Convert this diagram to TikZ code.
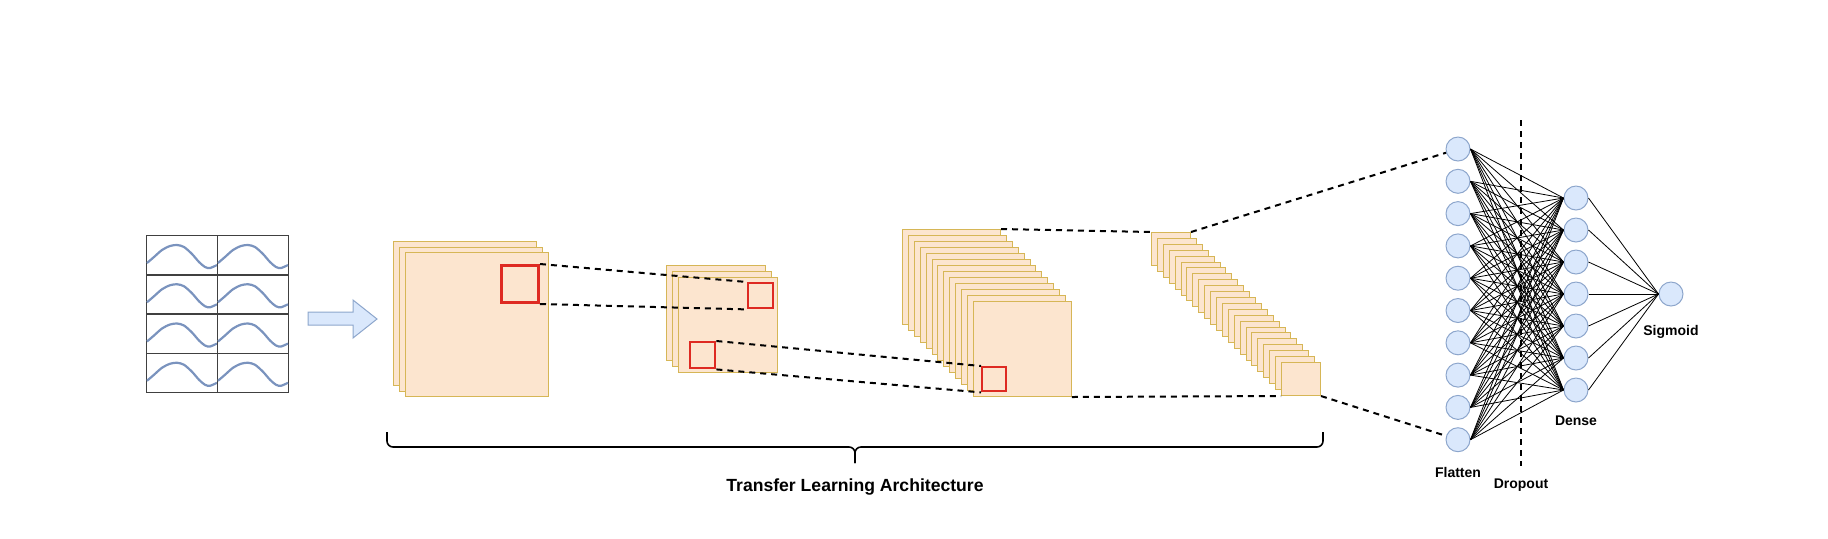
\documentclass[tikz,border=0pt]{standalone}
\usepackage{fontspec}
\setmainfont{Liberation Sans}
\usetikzlibrary{positioning,calc}
\definecolor{mapfill}{HTML}{FCE5CF}
\definecolor{mapline}{HTML}{D6B656}
\definecolor{kred}{HTML}{DE2A22}
\definecolor{nfill}{HTML}{DAE8FC}
\definecolor{nline}{HTML}{8DA6CC}
\definecolor{wavec}{HTML}{7A93BE}

\begin{document}
\begin{tikzpicture}[x=0.5pt,y=-0.5pt, font=\bfseries\fontsize{7}{8}\selectfont,
  fm/.style={draw=mapline,fill=mapfill,line width=0.5pt,inner sep=0,anchor=north west},
  krn/.style={draw=kred,line width=1.2pt,inner sep=0,anchor=north west},
  cell/.style={draw=black!75,line width=0.7pt,minimum width=35.5pt,minimum height=19.6pt,inner sep=0,anchor=north west},
  nrn/.style={circle,draw=nline,fill=nfill,line width=0.5pt,minimum size=12pt,inner sep=0},
  dsh/.style={line width=1pt,dash pattern=on 3pt off 2.5pt},
  wire/.style={line width=0.4pt}]
  \useasboundingbox (0,0) rectangle (1828,538);
  \foreach \r in {0,...,3}\foreach \c in {0,1}{
    \node[cell](in\r\c) at ({146+71*\c},{235+39.25*\r}){};
    \draw[wavec,line width=1.1pt,shift={(in\r\c.north west)}] plot[smooth] coordinates {(1,28) (8,22) (16,15) (24,11) (31,10) (38,12) (46,19) (53,27) (59,32) (64,33) (71,30)};}
  \draw[draw=nline,fill=nfill,line width=0.5pt] (308,312)--(353,312)--(353,300)--(377,319)--(353,338)--(353,325)--(308,325)--cycle;
  \foreach \i in {1,2,3} \node[fm,minimum width=71.5pt,minimum height=72pt](a\i) at ({393+6*(\i-1)},{241+5.5*(\i-1)}){};
  \node[krn,line width=1.5pt,minimum width=18.5pt,minimum height=18.5pt](k1) at (500,264){};
  \foreach \i in {1,2,3} \node[fm,minimum width=49.5pt,minimum height=47.5pt](b\i) at ({666+6*(\i-1)},{265+6*(\i-1)}){};
  \node[krn,minimum width=12.5pt,minimum height=12.5pt](k2) at (747,282){};
  \node[krn,minimum width=12.5pt,minimum height=13pt](k3) at (689,341){};
  \foreach \i in {1,...,13} \node[fm,minimum width=49pt,minimum height=47.5pt](c\i) at ({902+5.9*(\i-1)},{229+6*(\i-1)}){};
  \node[krn,minimum width=12pt,minimum height=12pt](k4) at (981,366){};
  \foreach \i in {1,...,23} \node[fm,minimum width=19.5pt,minimum height=16.5pt](e\i) at ({1151+5.91*(\i-1)},{232+5.91*(\i-1)}){};
  \foreach \i in {1,...,10} \node[nrn](f\i) at (1458,{149+32.3*(\i-1)}){};
  \foreach \j in {1,...,7} \node[nrn](d\j) at (1576,{198+32*(\j-1)}){};
  \node[nrn](sg) at (1671,294){};
  \foreach \i in {1,...,10}\foreach \j in {1,...,7} \draw[wire](f\i.east)--(d\j.west);
  \foreach \j in {1,...,7} \draw[wire](d\j.east)--(sg.west);
  \draw[dsh](k1.north east)--(k2.north west) (k1.south east)--(k2.south west);
  \draw[dsh](k3.north east)--(k4.north west) (k3.south east)--(k4.south west);
  \draw[dsh](c1.north east)--(e1.north west) (c13.south east)--(e23.south west);
  \draw[dsh](e1.north east)--(f1) (e23.south east)--(f10);
  \coordinate(dt) at (1521,120); \coordinate(db) at (1521,466);
  \draw[dsh](dt)--(db);
  \node[below=4pt of f10](lfl){Flatten};
  \node[below=3pt of db](ldo){Dropout};
  \node[below=3pt of d7](lde){Dense};
  \node[below=6pt of sg](lsg){Sigmoid};
  \coordinate(bl) at (387,432); \coordinate(br) at (1323,432);
  \coordinate(bm) at (855,447); \coordinate(bt) at (855,463);
  \draw[line width=0.8pt,rounded corners=3pt](bl)|-(bm)--(bt);
  \draw[line width=0.8pt,rounded corners=3pt](br)|-(bm)--(bt);
  \node[font=\bfseries\fontsize{8.8}{10}\selectfont](tla) at (855,487){Transfer Learning Architecture};
\end{tikzpicture}
\end{document}
